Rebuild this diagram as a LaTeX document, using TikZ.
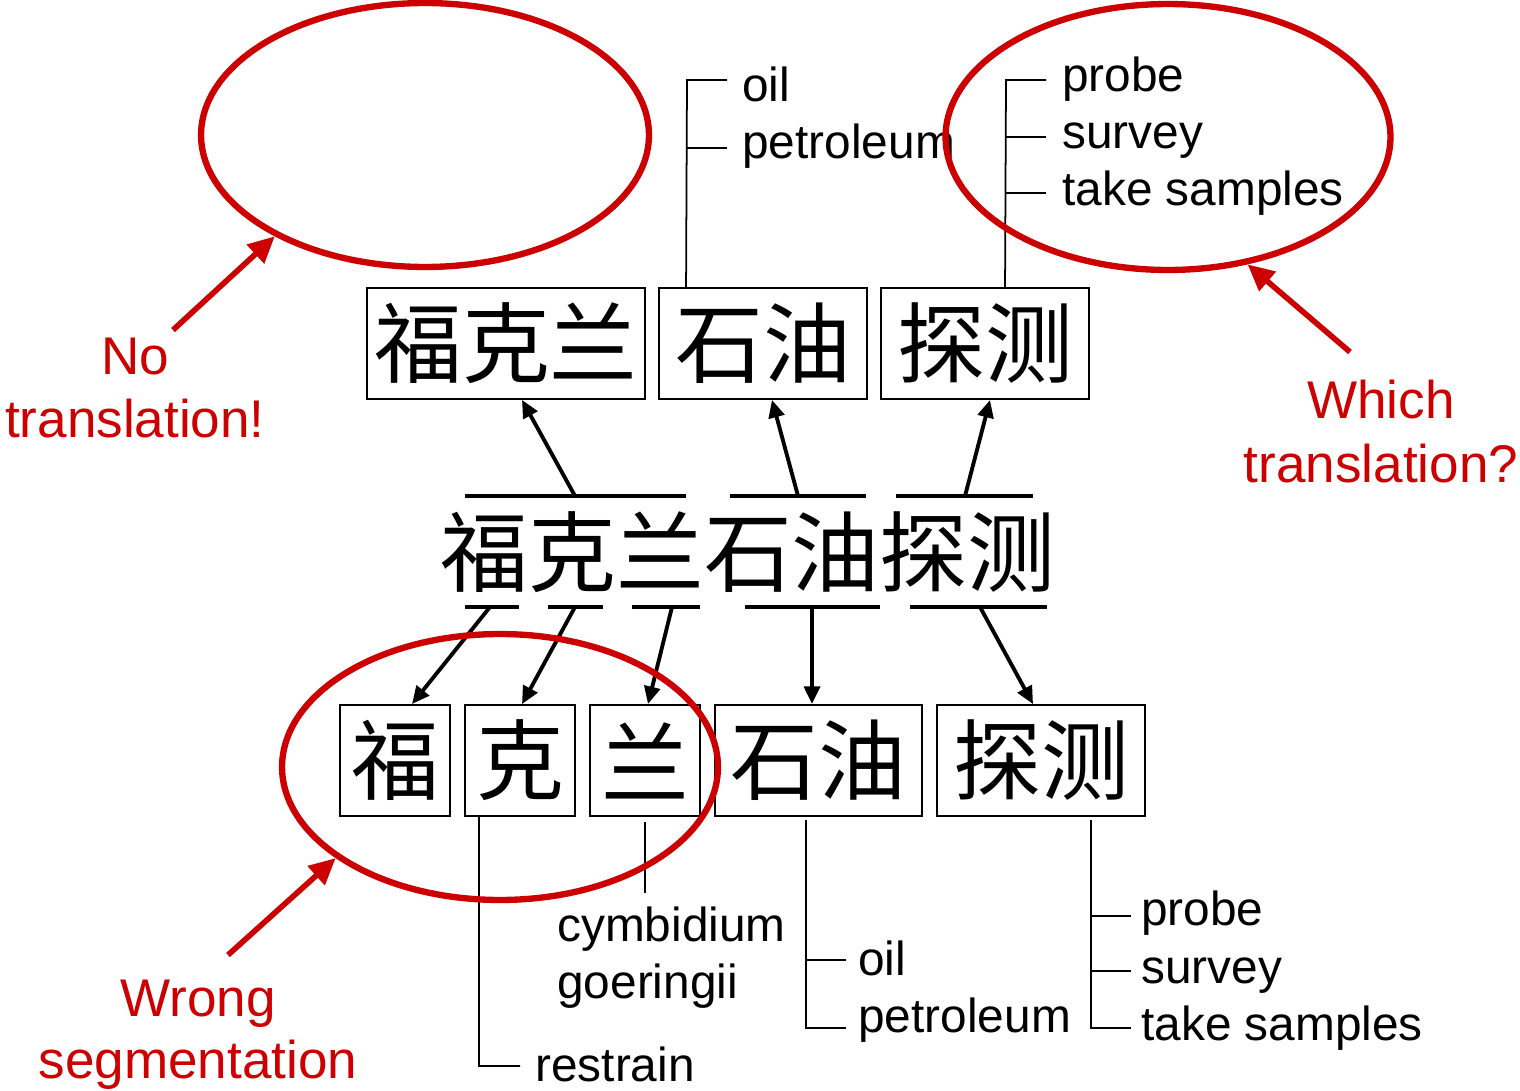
\documentclass[tikz,border=0pt]{standalone}
\usepackage{fontspec}
\setmainfont{Liberation Sans}
\newfontfamily\cjk{Noto Sans CJK SC}
\usetikzlibrary{arrows.meta,calc,shapes.geometric}
\definecolor{notered}{RGB}{204,0,0}
\begin{document}
\begin{tikzpicture}[x=0.02cm,y=-0.02cm,
 cjkbox/.style={draw,line width=1.1pt,minimum height=2.22cm,inner sep=0pt,font=\cjk\fontsize{50}{52}\selectfont},
 cjktext/.style={inner sep=0pt,font=\cjk\fontsize{50}{52}\selectfont},
 gloss/.style={anchor=base west,inner sep=0pt,font=\fontsize{27.2}{30}\selectfont},
 note/.style={anchor=base,inner sep=0pt,text=notered,font=\fontsize{30.2}{34}\selectfont},
 bar/.style={line width=2.8pt},
 arr/.style={line width=2.2pt,-{Triangle[length=10pt,width=9pt]}},
 redarr/.style={draw=notered,line width=3.2pt,-{Triangle[length=15pt,width=14pt,fill=notered]}},
 circ/.style={ellipse,draw=notered,line width=3.6pt,inner sep=0pt},
 tree/.style={line width=1pt}]
\fill[white] (0,0) rectangle (1520,1091);
\useasboundingbox (0,0) rectangle (1520,1091);

% top boxes
\node[cjkbox,minimum width=5.56cm] (A) at (506,343.5) {福克兰};
\node[cjkbox,minimum width=4.16cm] (B) at (763,343.5) {石油};
\node[cjkbox,minimum width=4.16cm] (C) at (985,343.5) {探测};

% middle sentence
\node[cjktext] (S) at (748,552) {福克兰石油探测};

% bottom boxes
\node[cjkbox,minimum width=2.2cm] (b1) at (395,760.5) {福};
\node[cjkbox,minimum width=2.2cm] (b2) at (520,760.5) {克};
\node[cjkbox,minimum width=2.2cm] (b3) at (645,760.5) {兰};
\node[cjkbox,minimum width=4.14cm] (b4) at (818.5,760.5) {石油};
\node[cjkbox,minimum width=4.16cm] (b5) at (1041,760.5) {探测};

% bars
\draw[bar] (465,496) -- (686,496);
\draw[bar] (730,496) -- (866,496);
\draw[bar] (896,496) -- (1033,496);
\draw[bar] (465,607) -- (519,607);
\draw[bar] (548,607) -- (603,607);
\draw[bar] (632,607) -- (700,607);
\draw[bar] (745,607) -- (880,607);
\draw[bar] (910,607) -- (1047,607);

\coordinate (u1) at (575,496);
\coordinate (u2) at (798,496);
\coordinate (u3) at (965,496);
\coordinate (d1) at (490,607);
\coordinate (d2) at (575,607);
\coordinate (d3) at (672,607);
\coordinate (d4) at (812,607);
\coordinate (d5) at (980,607);

\draw[arr] (u1) -- ([xshift=0.32cm]A.south);
\draw[arr] (u2) -- ([xshift=0.18cm]B.south);
\draw[arr] (u3) -- ([xshift=0.1cm]C.south);
\draw[arr] (d1) -- ([xshift=0.34cm]b1.north);
\draw[arr] (d2) -- ([xshift=0.04cm]b2.north);
\draw[arr] (d3) -- ([xshift=0.06cm]b3.north);
\draw[arr] (d4) -- ([xshift=-0.13cm]b4.north);
\draw[arr] (d5) -- ([xshift=-0.16cm]b5.north);

% glosses top
\node[gloss] (o1) at (742,102) {oil};
\node[gloss] (p1) at (742,159) {petroleum};
\node[gloss] (pr1) at (1062,92) {probe};
\node[gloss] (su1) at (1062,149) {survey};
\node[gloss] (ts1) at (1062,206) {take samples};

\draw[tree] ([xshift=0.56cm]B.north west) -- (687,80) -- (727,80);
\draw[tree] (687,148) -- (727,148);
\draw[tree] ([xshift=2.5cm]C.north west) -- (1006,80) -- (1046,80);
\draw[tree] (1006,137) -- (1046,137);
\draw[tree] (1006,193) -- (1046,193);

% glosses bottom
\node[gloss] (re) at (535,1081) {restrain};
\node[gloss] (cy) at (557,941) {cymbidium};
\node[gloss] (go) at (557,998) {goeringii};
\node[gloss] (o2) at (858,975) {oil};
\node[gloss] (p2) at (858,1032) {petroleum};
\node[gloss] (pr2) at (1141,925) {probe};
\node[gloss] (su2) at (1141,983) {survey};
\node[gloss] (ts2) at (1141,1040) {take samples};

\draw[tree] ([xshift=-0.82cm]b2.south) -- (479,1066) -- (520,1066);
\draw[tree] (645,822) -- (645,893);
\draw[tree] (806,820) -- (806,1028) -- (846,1028);
\draw[tree] (806,960) -- (846,960);
\draw[tree] (1091,820) -- (1091,1028) -- (1131,1028);
\draw[tree] (1091,916) -- (1131,916);
\draw[tree] (1091,971) -- (1131,971);

% notes
\node[note] (n1a) at (135,374) {No};
\node[note] (n1b) at (135,437) {translation!};
\node[note] (n2a) at (1381,418) {Which};
\node[note] (n2b) at (1381,482) {translation?};
\node[note] (n3a) at (198,1016) {Wrong};
\node[note] (n3b) at (198,1078) {segmentation};

\node[circ,minimum width=8.96cm,minimum height=5.28cm] (e1) at (425,135) {};
\node[circ,minimum width=8.9cm,minimum height=5.32cm] (e2) at (1168,137) {};
\node[circ,minimum width=8.72cm,minimum height=5.32cm] (e3) at (500,767) {};

\coordinate (t1) at (173,330);
\coordinate (t2) at (1350,352);
\coordinate (t3) at (228,955);
\draw[redarr] (t1) -- (e1.214.6);
\draw[redarr] (t2) -- (e2.302);
\draw[redarr] (t3) -- (e3.209.9);
\end{tikzpicture}
\end{document}
